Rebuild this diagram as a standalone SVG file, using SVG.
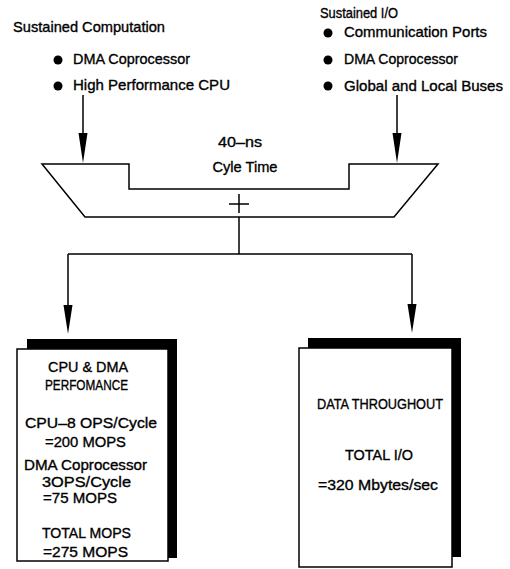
<svg xmlns="http://www.w3.org/2000/svg" width="510" height="569" viewBox="0 0 510 569">
<style>
text{font-family:"Liberation Sans",Arial,sans-serif;font-size:15px;fill:#000;stroke:#000;stroke-width:0.35}
.c{text-anchor:middle}
.ln{stroke:#000;stroke-width:1.5;fill:none}
.box{fill:#fff;stroke:#000;stroke-width:1.5}
.sh{fill:#000}
</style>
<rect width="510" height="569" fill="#fff"/>
<g id="computation">
<text x="13" y="32" textLength="152" lengthAdjust="spacingAndGlyphs">Sustained Computation</text>
<circle cx="58" cy="60" r="4.5"/>
<text x="73" y="64" textLength="117" lengthAdjust="spacingAndGlyphs">DMA Coprocessor</text>
<circle cx="58" cy="86" r="4.5"/>
<text x="73" y="90" textLength="157" lengthAdjust="spacingAndGlyphs">High Performance CPU</text>
</g>
<g id="io">
<text x="320" y="18" textLength="78" lengthAdjust="spacingAndGlyphs">Sustained I/O</text>
<circle cx="328" cy="33" r="4.5"/>
<text x="344" y="37" textLength="143" lengthAdjust="spacingAndGlyphs">Communication Ports</text>
<circle cx="328" cy="60" r="4.5"/>
<text x="344" y="64" textLength="114" lengthAdjust="spacingAndGlyphs">DMA Coprocessor</text>
<circle cx="328" cy="86" r="4.5"/>
<text x="344" y="91" textLength="159" lengthAdjust="spacingAndGlyphs">Global and Local Buses</text>
</g>
<g id="cycle">
<polygon class="ln" points="42,164 129,164 129,189 349,189 349,164 438,164 394,217 85,217"/>
<text class="c" x="240" y="147" textLength="44" lengthAdjust="spacingAndGlyphs">40–ns</text>
<text class="c" x="245" y="172" textLength="65" lengthAdjust="spacingAndGlyphs">Cyle Time</text>
<path class="ln" d="M229,204 H249 M239,194 V213"/>
</g>
<g id="connectors">
<path class="ln" d="M83,95 V136"/>
<polygon points="78.5,133 87.5,133 83,163"/>
<path class="ln" d="M397,95 V136"/>
<polygon points="392.5,133 401.5,133 397,163"/>
<path class="ln" d="M239,217 V254 M68,254 H412 M68,254 V307 M412,254 V307"/>
<polygon points="63.5,305 72.5,305 68,334"/>
<polygon points="407.5,304 416.5,304 412,333"/>
</g>
<g id="cpu-box">
<rect class="sh" x="27" y="339" width="150" height="219"/>
<rect class="box" x="17" y="349" width="151" height="212"/>
<text class="c" x="88" y="372" textLength="80" lengthAdjust="spacingAndGlyphs">CPU &amp; DMA</text>
<text class="c" x="86.5" y="390" textLength="83" lengthAdjust="spacingAndGlyphs">PERFOMANCE</text>
<text class="c" x="91" y="428" textLength="132" lengthAdjust="spacingAndGlyphs">CPU–8 OPS/Cycle</text>
<text class="c" x="85.5" y="447" textLength="81" lengthAdjust="spacingAndGlyphs">=200 MOPS</text>
<text class="c" x="85.5" y="470" textLength="123" lengthAdjust="spacingAndGlyphs">DMA Coprocessor</text>
<text class="c" x="86.5" y="487" textLength="89" lengthAdjust="spacingAndGlyphs">3OPS/Cycle</text>
<text class="c" x="80" y="503" textLength="74" lengthAdjust="spacingAndGlyphs">=75 MOPS</text>
<text class="c" x="86.5" y="538" textLength="89" lengthAdjust="spacingAndGlyphs">TOTAL MOPS</text>
<text class="c" x="85.5" y="557" textLength="85" lengthAdjust="spacingAndGlyphs">=275 MOPS</text>
</g>
<g id="data-box">
<rect class="sh" x="308" y="338" width="153" height="219"/>
<rect class="box" x="299" y="348" width="153" height="219"/>
<text class="c" x="380" y="409" textLength="126" lengthAdjust="spacingAndGlyphs">DATA THROUGHOUT</text>
<text class="c" x="379" y="460" textLength="68" lengthAdjust="spacingAndGlyphs">TOTAL I/O</text>
<text class="c" x="378" y="490" textLength="120" lengthAdjust="spacingAndGlyphs">=320 Mbytes/sec</text>
</g>
</svg>
